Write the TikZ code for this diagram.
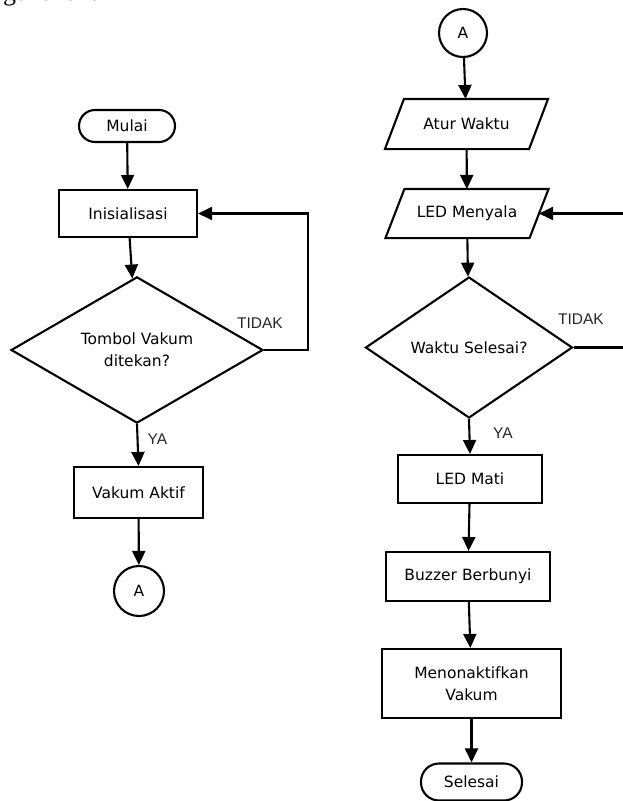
\documentclass[tikz,border=0pt]{standalone}
\usepackage{fontspec}
\setmainfont{DejaVu Sans}
\newfontfamily\labelfont{Liberation Sans}
\newfontfamily\pagefont{Liberation Serif}
\usetikzlibrary{arrows.meta,shapes.geometric,calc}
\tikzset{
  base/.style={line width=2.1pt, draw=black, font=\fontsize{15.5}{22}\selectfont, text=black, align=center, inner sep=0pt},
  procbox/.style={base, rectangle},
  termbox/.style={base, rectangle, rounded corners=16pt},
  iobox/.style={base, rectangle, draw=none},
  decbox/.style={base, diamond},
  connbox/.style={base, circle},
  flow/.style={line width=2.1pt, -{Triangle[length=14pt,width=13pt]}},
  lbl/.style={font=\labelfont\fontsize{15.5}{18}\selectfont, text=black!85, inner sep=0pt},
  para/.style={line width=2.1pt, line join=miter}
}
\begin{document}
\begin{tikzpicture}[x=1pt,y=-1pt]
\useasboundingbox (0,0) rectangle (623,801);
\clip (0,0) rectangle (623,801);

% fragment of page text above the figure
\node[anchor=base west, inner sep=0pt, font=\pagefont\fontsize{26}{30}\selectfont] (frag) at (3,0) {gunakan.};

% left column
\node[termbox, minimum width=96pt, minimum height=32pt] (mulai) at (127,126) {Mulai};
\node[procbox, minimum width=138pt, minimum height=47pt] (init) at (128,213.5) {Inisialisasi};
\node[decbox, minimum width=252pt, minimum height=136pt] (d1) at (137,350) {Tombol Vakum\\ditekan?};
\node[procbox, minimum width=129pt, minimum height=51pt] (vakum) at (138.5,492.5) {Vakum Aktif};
\node[connbox, minimum size=50pt] (a1) at (139,591) {A};

\draw[flow] (mulai) -- (init);
\draw[flow] (init) -- (d1);
\draw[flow] (d1.south) -- (vakum.north);
\draw[flow] (vakum) -- (a1);
\draw[flow] (d1.east) -- (308,350) |- (init.east);
\node[lbl] (tidak1) at (260,323) {TIDAK};
\node[lbl] (ya1) at (157.5,439) {YA};

% right column
\node[connbox, minimum size=48pt] (a2) at (463,33) {A};
\node[iobox, minimum width=142pt, minimum height=48pt] (atur) at (466.5,124) {Atur Waktu};
\draw[para] ($(atur.north west)+(9.5,0)$) -- ($(atur.north east)+(9.5,0)$) -- ($(atur.south east)+(-9.5,0)$) -- ($(atur.south west)+(-9.5,0)$) -- cycle;
\node[iobox, minimum width=142pt, minimum height=47pt] (led) at (467,213.5) {LED Menyala};
\draw[para] ($(led.north west)+(9.5,0)$) -- ($(led.north east)+(9.5,0)$) -- ($(led.south east)+(-9.5,0)$) -- ($(led.south west)+(-9.5,0)$) -- cycle;
\node[decbox, minimum width=207pt, minimum height=141pt] (d2) at (469,347.5) {Waktu Selesai?};
\node[procbox, minimum width=144pt, minimum height=48pt] (mati) at (470,479) {LED Mati};
\node[procbox, minimum width=164pt, minimum height=49pt] (buzzer) at (468,576.5) {Buzzer Berbunyi};
\node[procbox, minimum width=179pt, minimum height=69pt] (menon) at (471.5,683.5) {Menonaktifkan\\Vakum};
\node[termbox, rounded corners=18pt, minimum width=101pt, minimum height=37pt] (selesai) at (471.5,782) {Selesai};

\coordinate (loopx) at (640,347.5);
\draw[flow] (a2) -- (atur);
\draw[flow] (atur) -- (led);
\draw[flow] (led) -- (d2);
\draw[flow] (d2.south) -- (mati.north);
\draw[flow] (mati) -- (buzzer);
\draw[flow] (buzzer) -- (menon);
\draw[flow] (menon) -- (selesai);
\draw[flow] (d2.east) -- (loopx) |- (led.east);
\node[lbl] (tidak2) at (581,319) {TIDAK};
\node[lbl] (ya2) at (503,433) {YA};
\end{tikzpicture}
\end{document}
